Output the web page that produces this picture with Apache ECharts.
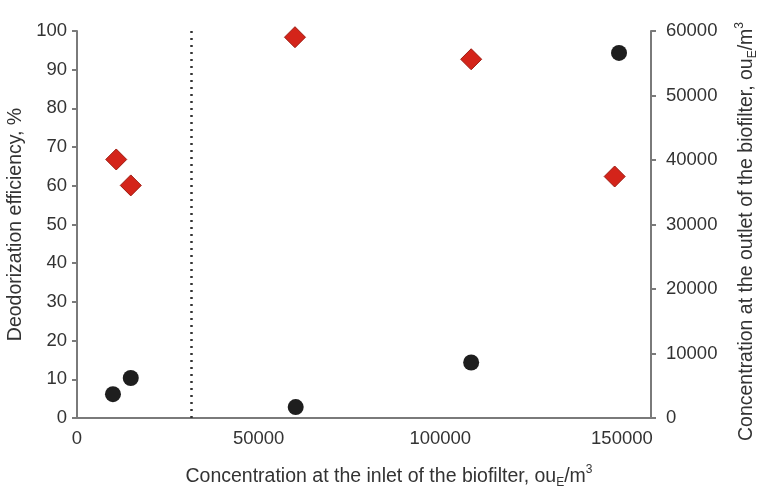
<!DOCTYPE html>
<html>
<head>
<meta charset="utf-8">
<script src="https://cdn.jsdelivr.net/npm/echarts@6/dist/echarts.min.js"></script>
<style>html,body{margin:0;padding:0;background:#fff}#c{width:765px;height:488px}</style>
</head>
<body>
<div id="c"></div>
<script>
// Data
var inletEff   = [10800, 14800, 60000, 108500, 148000];
var efficiency = [66.8, 60.1, 98.4, 92.7, 62.4];
var inletOut   = [9900, 14800, 60200, 108500, 149200];
var outlet     = [3700, 6200, 1700, 8600, 56600];
var dividerX   = 31500;
var xTicks     = [0, 50000, 100000, 150000];

var effData = inletEff.map(function (x, i) { return [x, efficiency[i]]; });
var outData = inletOut.map(function (x, i) { return [x, outlet[i]]; });

var font = 'Liberation Sans, Arial, sans-serif';
var axisCol = '#7a7a7a';
var txtCol = '#333';
var rich = {
  n: { fontSize: 19.5, color: txtCol, fontFamily: font },
  sub: { fontSize: 12, color: txtCol, fontFamily: font, padding: [11, 0, 0, 0] },
  sup: { fontSize: 12, color: txtCol, fontFamily: font, padding: [0, 0, 14, 0] }
};

var chart = echarts.init(document.getElementById('c'), null, { renderer: 'canvas' });
chart.setOption({
  animation: false,
  backgroundColor: '#fff',
  grid: { left: 77, right: 114, top: 31, bottom: 70, containLabel: false, outerBoundsMode: 'none' },
  xAxis: {
    type: 'value', min: 0, max: 158000, interval: 50000,
    axisLine: { show: true, lineStyle: { color: axisCol, width: 2 } },
    axisTick: { show: false },
    splitLine: { show: false },
    axisLabel: {
      showMaxLabel: false, margin: 11, fontSize: 18.5, color: txtCol, fontFamily: font,
      formatter: function (v) { return xTicks.indexOf(v) >= 0 ? String(v) : ''; }
    },
    name: '{n|Concentration at the inlet of the biofilter, ou}{sub|E}{n|/m}{sup|3}',
    nameLocation: 'middle', nameGap: 46,
    nameTextStyle: { rich: rich, padding: [0, 0, 0, 50] }
  },
  yAxis: [{
    type: 'value', min: 0, max: 100, interval: 10, position: 'left',
    axisLine: { show: true, lineStyle: { color: axisCol, width: 2 } },
    axisTick: { show: true, length: 5, lineStyle: { color: axisCol, width: 2 } },
    splitLine: { show: false },
    axisLabel: { margin: 10, fontSize: 18.5, color: txtCol, fontFamily: font },
    name: 'Deodorization efficiency, %', nameLocation: 'middle', nameGap: 45,
    nameTextStyle: { fontSize: 19.5, color: txtCol, fontFamily: font }
  }, {
    type: 'value', min: 0, max: 60000, interval: 10000, position: 'right',
    axisLine: { show: true, lineStyle: { color: axisCol, width: 2 } },
    axisTick: { show: true, length: 5, lineStyle: { color: axisCol, width: 2 } },
    splitLine: { show: false },
    axisLabel: { margin: 15, fontSize: 18.5, color: txtCol, fontFamily: font,
      formatter: function (v) { return String(v); } },
    name: '{n|Concentration at the outlet of the biofilter, ou}{sub|E}{n|/m}{sup|3}',
    nameLocation: 'middle', nameGap: 83, nameRotate: 90,
    nameTextStyle: { rich: rich, padding: [0, 14, 0, 0] }
  }],
  series: [{
    type: 'scatter', yAxisIndex: 0, data: effData,
    symbol: 'diamond', symbolSize: 21,
    itemStyle: { color: '#d4241a', borderColor: '#9e1a10', borderWidth: 1, opacity: 1 },
    markLine: {
      silent: true, symbol: 'none', label: { show: false },
      lineStyle: { type: [2, 5], color: '#333', width: 2.5 },
      data: [{ xAxis: dividerX }]
    },
    z: 3
  }, {
    type: 'scatter', yAxisIndex: 1, data: outData,
    symbol: 'circle', symbolSize: 16,
    itemStyle: { color: '#1e1e1e', opacity: 1 },
    z: 3
  }]
});
</script>
</body>
</html>
